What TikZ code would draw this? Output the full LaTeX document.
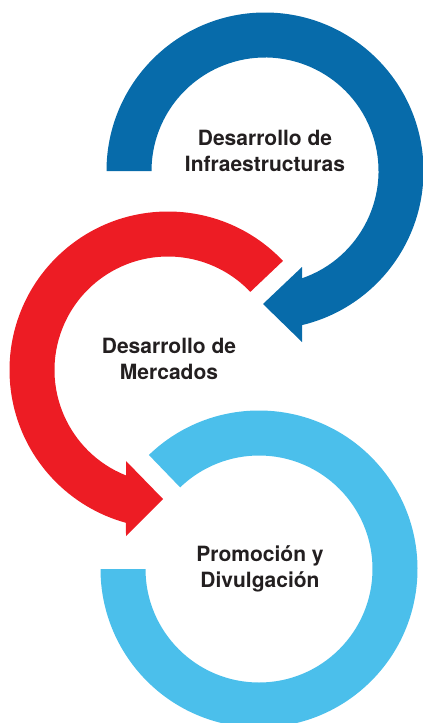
\documentclass[tikz,border=0pt]{standalone}
\usepackage{fontspec}
\setmainfont{TeX Gyre Heros}
\usepackage{tikz}
\usetikzlibrary{calc}

\definecolor{infraBlue}{RGB}{7,107,170}
\definecolor{mercRed}{RGB}{237,28,36}
\definecolor{promoBlue}{RGB}{75,191,235}
\definecolor{labelGrey}{RGB}{35,31,32}

\begin{document}
\begin{tikzpicture}[x=1pt,y=1pt,yscale=-1,
  band/.style={draw=none},
  label/.style={font=\bfseries\fontsize{21}{26.5}\selectfont,text=labelGrey,align=center,inner sep=0pt}]
\useasboundingbox (0,0) rectangle (423,723);
%Centres of the three rings
\coordinate (cInfra) at (265,171);
\coordinate (cMerc) at (168,370);
\coordinate (cPromo) at (259,569);
%Blue ring with arrow head
\fill [band,fill=infraBlue] ($(cInfra)+(180:158.5)$) arc[start angle=180, end angle=436.5, radius=158.5] -- (302,342) -- (263,304) -- (302,267) -- ($(cInfra)+(70.97:113.5)$) arc[start angle=70.97, end angle=-180, radius=113.5] -- cycle;
%Red ring with arrow head
\fill [band,fill=mercRed] ($(cMerc)+(-43.5:158.5)$) arc[start angle=-43.5, end angle=-254.63, radius=158.5] -- (126,536) -- (163,499) -- (126,461) -- ($(cMerc)+(-248.28:113.5)$) arc[start angle=-248.28, end angle=-43.5, radius=113.5] -- cycle;
%Light blue ring
\fill [band,fill=promoBlue] ($(cPromo)+(-134:158.5)$) arc[start angle=-134, end angle=180, radius=158.5] -- ($(cPromo)+(180:113.5)$) arc[start angle=180, end angle=-134, radius=113.5] -- cycle;

% Text Node
\node [label] (infra) at (265,151) {Desarrollo de\\Infraestructuras};
% Text Node
\node [label] (merc) at (169,359) {Desarrollo de\\Mercados};
% Text Node
\node [label] (promo) at (260,569) {Promoción y\\Divulgación};
\end{tikzpicture}
\end{document}
